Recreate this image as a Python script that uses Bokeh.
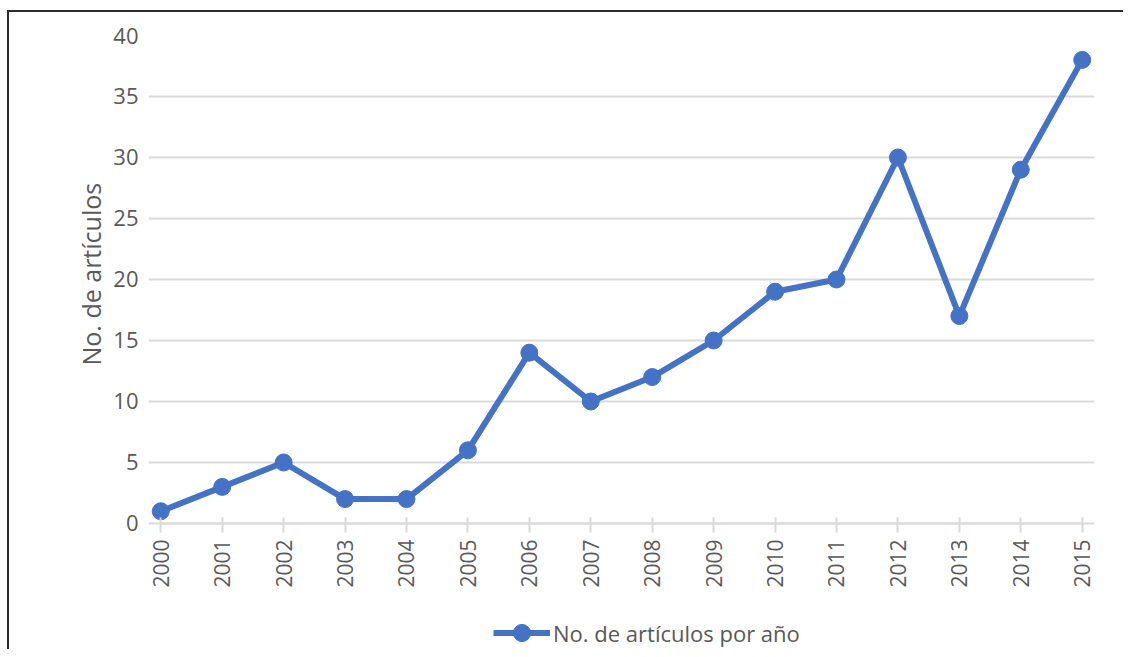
from bokeh.plotting import figure
from bokeh.models import Range1d, Legend, LegendItem, FixedTicker, Title
from bokeh.embed import file_html
from bokeh.resources import INLINE

years = list(range(2000, 2016))
articulos = [1, 3, 5, 2, 2, 6, 14, 10, 12, 15, 19, 20, 30, 17, 29, 38]
y_ticks = [0, 5, 10, 15, 20, 25, 30, 35, 40]
series_name = "No. de artículos por año"
y_title = "No. de artículos"

FONT = "Open Sans"
TXT = "#595959"
BLUE = "#4472C4"
GRID = "#D9D9D9"
EDGE = "#2b2b2b"

# frame runs to the bottom of the canvas; the x axis is pinned at y=0 inside it
p = figure(width=1123, height=649, output_backend="svg", toolbar_location=None,
           x_range=Range1d(1999.8, 2015.2), y_range=Range1d(-10.33, 40),
           min_border_left=148, min_border_right=29, min_border_top=35, min_border_bottom=0)
p.styles = {
    "background": (f"linear-gradient({EDGE},{EDGE}) 7px 10px / 2px 100% no-repeat, "
                   f"linear-gradient({EDGE},{EDGE}) 7px 10px / 100% 2px no-repeat, white"),
}
p.outline_line_color = None
p.background_fill_color = "white"
p.border_fill_color = None

# grid
p.xgrid.grid_line_color = None
p.ygrid.ticker = FixedTicker(ticks=y_ticks)
p.ygrid.grid_line_color = GRID
p.ygrid.grid_line_width = 2
p.ygrid.bounds = (2000, 2015)

# x axis
p.xaxis.fixed_location = 0
p.xaxis.ticker = FixedTicker(ticks=years)
p.xaxis.bounds = (2000, 2015)
p.xaxis.axis_line_color = GRID
p.xaxis.axis_line_width = 2
p.xaxis.major_tick_line_color = GRID
p.xaxis.major_tick_line_width = 2
p.xaxis.major_tick_in = 6
p.xaxis.major_tick_out = 9
p.xaxis.minor_tick_line_color = None
p.xaxis.major_label_orientation = 1.5708
p.xaxis.major_label_text_font = FONT
p.xaxis.major_label_text_font_size = "21px"
p.xaxis.major_label_text_color = TXT
p.xaxis.major_label_standoff = 7

# y axis
p.yaxis.ticker = FixedTicker(ticks=y_ticks)
p.yaxis.axis_line_color = None
p.yaxis.major_tick_line_color = None
p.yaxis.minor_tick_line_color = None
p.yaxis.major_label_text_font = FONT
p.yaxis.major_label_text_font_size = "22px"
p.yaxis.major_label_text_color = TXT
p.yaxis.major_label_standoff = 4

ytitle = Title(text=y_title, align="left", offset=284, standoff=5,
               text_font=FONT, text_font_size="25px", text_font_style="normal",
               text_color=TXT)
p.add_layout(ytitle, "left")

ln = p.line(years, articulos, line_color=BLUE, line_width=6)
sc = p.scatter(years, articulos, size=17, fill_color=BLUE, line_color=BLUE)

legend = Legend(items=[LegendItem(label=series_name, renderers=[ln, sc])],
                location=(345, -5), orientation="horizontal",
                label_text_font=FONT, label_text_font_size="22px", label_text_color=TXT,
                glyph_width=57, glyph_height=43, label_height=22, label_standoff=3,
                border_line_color=None, background_fill_alpha=0, padding=0, margin=0)
p.add_layout(legend)

open("out.html", "w").write(file_html(p, INLINE))
